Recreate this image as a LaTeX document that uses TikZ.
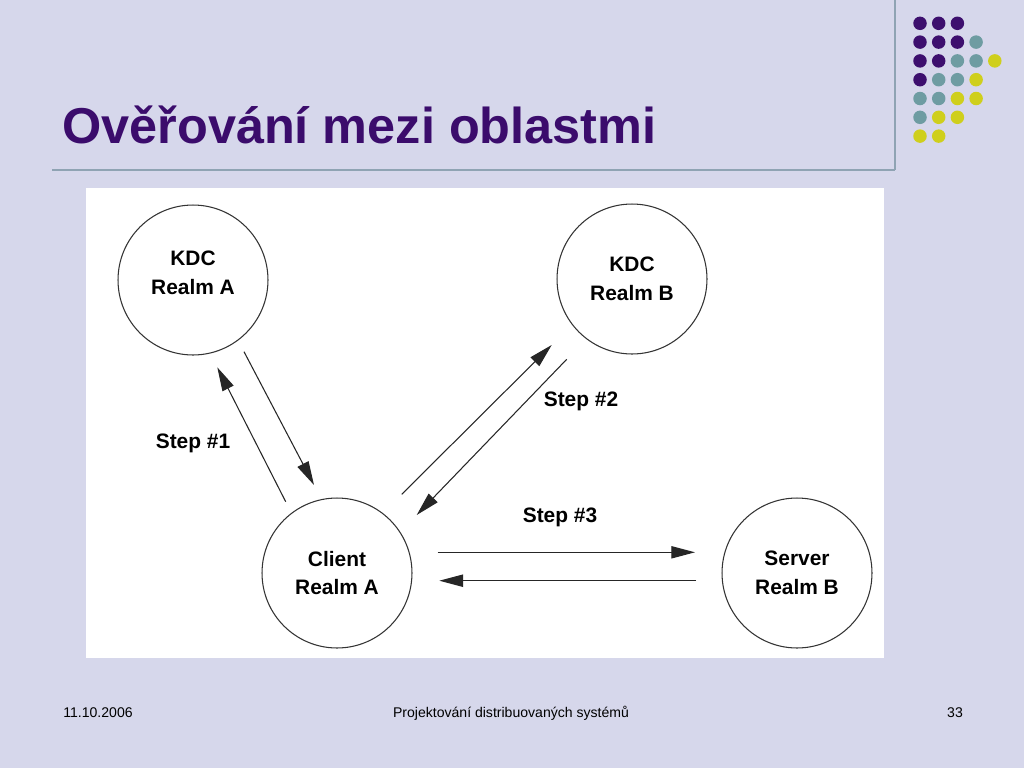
\documentclass[tikz,border=0pt]{standalone}
\usepackage{fontspec}
\setmainfont{Liberation Sans}
\usetikzlibrary{arrows.meta}
\definecolor{bgcol}{HTML}{D6D7EB}
\definecolor{titlecol}{HTML}{3B0C6C}
\definecolor{rulecol}{HTML}{8FA3B3}
\definecolor{dotP}{HTML}{3D0F6E}
\definecolor{dotT}{HTML}{6E9CA2}
\definecolor{dotY}{HTML}{CFCF1C}
\tikzset{
  realm/.style={circle, draw=black!80, line width=0.6pt, minimum size=3cm, inner sep=0pt,
    align=center, font=\fontsize{11.9}{16.4}\selectfont\bfseries},
  realmlbl/.style={align=center, inner sep=0pt, font=\fontsize{11.9}{16.4}\selectfont\bfseries},
  steplbl/.style={font=\fontsize{11.9}{14}\selectfont\bfseries, inner sep=0pt},
  msg/.style={line width=0.6pt, draw=black!85, -{Triangle[length=13.5pt,width=7pt]}},
  footer/.style={font=\fontsize{8}{10}\selectfont, inner sep=0pt},
  dot/.style={circle, inner sep=0pt, minimum size=0.27cm}
}
\begin{document}
\begin{tikzpicture}[x=0.02cm,y=-0.02cm]
\fill[bgcol] (0,0) rectangle (1024,768);
\useasboundingbox (0,0) rectangle (1024,768);
% title
\node[anchor=base west, inner sep=0pt, text=titlecol, font=\fontsize{28.7}{34}\selectfont\bfseries] (title) at (62,143) {Ověřování mezi oblastmi};
% rules
\draw[rulecol, line width=0.8pt] (52,170) -- (895,170);
\draw[rulecol, line width=0.8pt] (895,0) -- (895,170);
% dots
\foreach \r/\cols in {0/{P,P,P},1/{P,P,P,T},2/{P,P,T,T,Y},3/{P,T,T,Y},4/{T,T,Y,Y},5/{T,Y,Y},6/{Y,Y}}{
  \foreach \c [count=\i from 0] in \cols {
    \node[dot, fill=dot\c] (d\r\i) at ({920+18.7*\i},{23.3+18.8*\r}) {};
  }
}
% white panel
\fill[white] (86,188) rectangle (884,658);
% nodes
\node[realm, label={[realmlbl, yshift=0.14cm]center:KDC\\Realm A}] (kdca) at (193,280) {};
\node[realm] (kdcb) at (632,279) {KDC\\Realm B};
\node[realm] (client) at (337,573) {Client\\Realm A};
\node[realm] (server) at (797,573) {Server\\Realm B};
% arrow end points
\coordinate (a1s) at (285.7,501.7);
\coordinate (a1e) at (217.3,367.3);
\coordinate (a2s) at (244,351.7);
\coordinate (a2e) at (314,485);
\coordinate (b1s) at (401.7,494.3);
\coordinate (b1e) at (551.7,345);
\coordinate (b2s) at (566.7,359.3);
\coordinate (b2e) at (416.7,515);
\coordinate (c1s) at (437.7,552.3);
\coordinate (c1e) at (695,552.3);
\coordinate (c2s) at (696,580.7);
\coordinate (c2e) at (439.3,580.7);
\draw[msg] (a1s) -- (a1e);
\draw[msg] (a2s) -- (a2e);
\draw[msg] (b1s) -- (b1e);
\draw[msg] (b2s) -- (b2e);
\draw[msg] (c1s) -- (c1e);
\draw[msg] (c2s) -- (c2e);
% step labels
\node[steplbl] (s1) at (193,443) {Step \#1};
\node[steplbl] (s2) at (581,401) {Step \#2};
\node[steplbl] (s3) at (560,517) {Step \#3};
% footer
\node[footer] (date) at (98,713) {11.10.2006};
\node[footer] (course) at (511,713) {Projektování distribuovaných systémů};
\node[footer] (page) at (955,713) {33};
\end{tikzpicture}
\end{document}
